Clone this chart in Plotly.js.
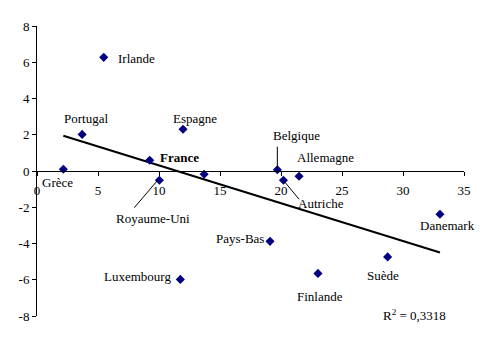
<!DOCTYPE html>
<html><head><meta charset="utf-8">
<script src="https://cdn.plot.ly/plotly-3.0.1.min.js"></script>
<style>html,body{margin:0;padding:0;background:#fff}#c{width:487px;height:341px}</style>
</head><body><div id="c"></div>
<script>
const countries = ["Grèce","Portugal","Irlande","France","Royaume-Uni","Espagne","Italie","Luxembourg","Belgique","Autriche","Allemagne","Pays-Bas","Finlande","Suède","Danemark"];
const xVals = [2.16, 3.7, 5.47, 9.24, 10.03, 11.97, 13.7, 11.75, 19.7, 20.2, 21.48, 19.1, 23.03, 28.74, 33.03];
const yVals = [0.1, 2.02, 6.27, 0.59, -0.51, 2.3, -0.18, -5.98, 0.07, -0.51, -0.29, -3.88, -5.65, -4.74, -2.39];
const yTickVals = [-8,-6,-4,-2,0,2,4,6,8];
const yTickText = ["-8","-6","-4","-2","0","2","4","6","8"];
const xTickVals = [0,5,10,15,20,25,30,35];
const xTickText = ["0","5","10","15","20","25","30","35"];
const r2Text = "R<sup>2</sup> = 0,3318";

// label placement (label text, x, y, anchor) for each labelled country
const labels = [
  ["Irlande", 6.475, 6.18, "left"],
  ["Portugal", 3.975, 2.885, "center"],
  ["Espagne", 12.99, 2.885, "center"],
  ["<b>France</b>", 11.70, 0.734, "center"],
  ["Grèce", 1.68, -0.646, "center"],
  ["Royaume-Uni", 9.467, -2.61, "center"],
  ["Luxembourg", 8.26, -5.83, "center"],
  ["Belgique", 21.23, 1.986, "center"],
  ["Allemagne", 23.63, 0.734, "center"],
  ["Autriche", 23.24, -1.78, "center"],
  ["Danemark", 33.63, -2.98, "center"],
  ["Pays-Bas", 16.61, -3.75, "center"],
  ["Suède", 28.36, -5.78, "center"],
  ["Finlande", 23.18, -6.94, "center"]
];

// OLS regression
const n = xVals.length;
const mx = xVals.reduce((a,b)=>a+b,0)/n, my = yVals.reduce((a,b)=>a+b,0)/n;
let sxy=0, sxx=0;
for (let i=0;i<n;i++){ sxy += (xVals[i]-mx)*(yVals[i]-my); sxx += (xVals[i]-mx)**2; }
const slope = sxy/sxx, icpt = my - slope*mx;
const xMin = Math.min(...xVals), xMax = Math.max(...xVals);

const font = {family:"Liberation Serif, Times New Roman, serif", size:13, color:"#000"};

const traces = [
  {x:[xMin,xMax], y:[icpt+slope*xMin, icpt+slope*xMax], mode:"lines", line:{color:"#000",width:2}, hoverinfo:"skip"},
  {x:xVals, y:yVals, text:countries, mode:"markers", marker:{symbol:"diamond", size:7, color:"#000080"}}
];

const annotations = labels.map(l => ({x:l[1], y:l[2], xref:"x", yref:"y", text:l[0], showarrow:false, xanchor:l[3], yanchor:"middle", font:font}));
annotations.push({x:30.98, y:-7.94, xref:"x", yref:"y", text:r2Text, showarrow:false, xanchor:"center", yanchor:"middle", font:font});

const shapes = [
  {type:"line", xref:"x", yref:"y", x0:7.975, y0:-2.025, x1:9.86, y1:-0.535, line:{color:"#000", width:1}},
  {type:"line", xref:"x", yref:"y", x0:19.70, y0:1.34, x1:19.70, y1:0.11, line:{color:"#000", width:1}},
  {type:"line", xref:"x", yref:"y", x0:20.19, y0:-0.51, x1:21.48, y1:-1.56, line:{color:"#000", width:1}}
];

const layout = {
  width:487, height:341,
  margin:{l:37, r:23, t:26, b:25},
  paper_bgcolor:"#fff", plot_bgcolor:"#fff",
  showlegend:false, font:font,
  xaxis:{range:[0,35], tickvals:xTickVals, ticktext:xTickText, showgrid:false, zeroline:false,
         showline:true, linecolor:"#000", linewidth:1, ticks:"outside", ticklen:4, tickcolor:"#000",
         anchor:"free", position:0.5, tickfont:font, ticklabelstandoff:3},
  yaxis:{range:[-8,8], tickvals:yTickVals, ticktext:yTickText, showgrid:false, zeroline:false,
         showline:true, linecolor:"#000", linewidth:1, ticks:"outside", ticklen:4, tickcolor:"#000", tickfont:font},
  annotations:annotations, shapes:shapes
};
Plotly.newPlot("c", traces, layout, {staticPlot:true, displayModeBar:false});
</script></body></html>
